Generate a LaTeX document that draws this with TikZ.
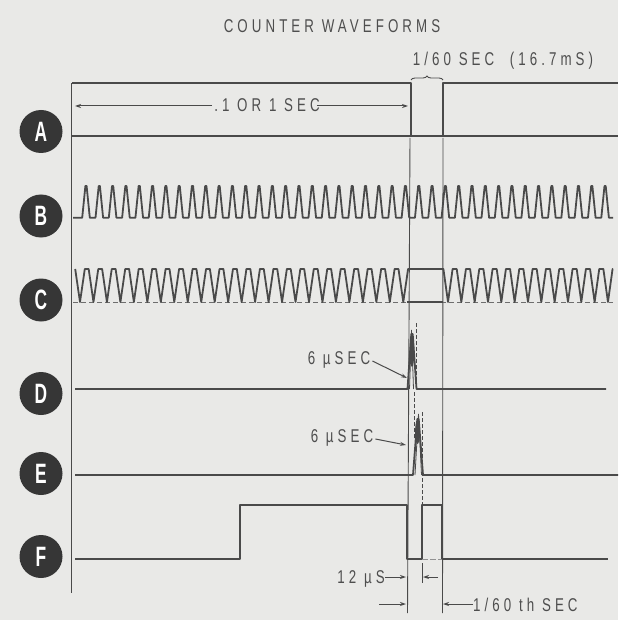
\documentclass[tikz,border=0pt]{standalone}
\usepackage{fontspec}
\setmainfont{Liberation Sans}
\newfontfamily\lblfont{Liberation Sans}[FakeStretch=0.72,LetterSpace=22]
\newfontfamily\circfont{Liberation Sans}[FakeStretch=0.62]
\usetikzlibrary{arrows.meta,decorations.pathreplacing}
\definecolor{bg}{HTML}{E9E9E7}
\definecolor{ink}{HTML}{4A4A4A}
\definecolor{txt}{HTML}{4E4E4E}
\definecolor{circfill}{HTML}{363636}
\begin{document}
\begin{tikzpicture}[x=1pt,y=-1pt,
  wave/.style={draw=ink,line width=1.8pt,line join=round},
  thinl/.style={draw=ink,line width=1.1pt},
  guide/.style={draw=ink,line width=0.9pt},
  lbl/.style={text=txt,inner sep=0pt,font=\lblfont\fontsize{18.5}{20}\selectfont},
  arr/.style={draw=ink,line width=1pt,-{Stealth[length=6pt,width=4pt]}},
  circ/.style={circle,fill=circfill,minimum size=43pt,inner sep=0pt,text=white,font=\circfont\bfseries\fontsize{28}{28}\selectfont}]
\fill[bg] (0,0) rectangle (618,620);
\useasboundingbox (0,0) rectangle (618,620);

% titles
\node[lbl,anchor=base] (title) at (332,32.5) {COUNTER WAVEFORMS};
\node[lbl,anchor=base] (per) at (503,66) {1/60 SEC\ \ (16.7mS)};

% letter circles
\node[circ] (cA) at (41,131.5) {A};
\node[circ] (cB) at (41,216) {B};
\node[circ] (cC) at (41,300) {C};
\node[circ] (cD) at (41,393.5) {D};
\node[circ] (cE) at (41,473.5) {E};
\node[circ] (cF) at (41,556.5) {F};

% axis
\draw[line width=1.2pt,ink] (71.5,83) -- (71.5,593);

% guides
\draw[guide] (410,138) -- (407.5,613);
\draw[guide] (443,138) -- (442.5,613);
\draw[guide] (422,563) -- (422,583);

% A
\draw[thinl] (72,136) -- (618,136);
\draw[wave] (72,83) -- (411,83) -- (411,136) -- (443,136) -- (443,83) -- (618,83);
\draw[draw=ink,line width=0.9pt,decorate,decoration={brace,amplitude=4pt}] (411,80) -- (443,80);
\node[lbl,anchor=base] (t1) at (267,112) {.1 OR 1 SEC};
\coordinate (aL) at (75,106);
\coordinate (aR) at (408,106);
\draw[arr] ([shift={(-2pt,6pt)}]t1.base west) -- (aL);
\draw[arr] ([shift={(-3pt,6pt)}]t1.base east) -- (aR);

% B
\draw[wave] (73,217.7) -- (82,217.7)
  \foreach \k in {0,...,39} { -- ({86+13.31*\k-3.8},217.7) -- ({86+13.31*\k-0.6},186) -- ({86+13.31*\k+0.6},186) -- ({86+13.31*\k+3.8},217.7) }
  -- (613,217.7);

% C
\draw[draw=ink!80,line width=0.8pt,dash pattern=on 5pt off 3pt] (73,302) -- (613,302);
\draw[thinl] (407,302) -- (443,302);
\draw[wave] (75.2,269)
  \foreach \k in {0,...,24} { -- ({80+13.47*\k-4.8},269) -- ({80+13.47*\k},302) -- ({80+13.47*\k+4.8},269) }
  -- (408,269) -- (443.4,269)
  \foreach \k in {0,...,12} { -- ({448+13.33*\k-4.6},269) -- ({448+13.33*\k},302) -- ({448+13.33*\k+4.6},269) }
  -- (613,269);

% D
\draw[wave] (75,389) -- (407.5,389) -- (411.3,334) -- (412.7,334) -- (416.5,389) -- (606,389);
\fill[ink] (412,352) ellipse (2.2pt and 15pt);
\draw[ink,line width=0.8pt] (409.5,389) -- (411.5,330) -- (413.5,389);
\draw[ink,line width=0.9pt,dash pattern=on 4pt off 2pt] (416,323) -- (416,386);
\draw[ink,line width=0.9pt,dash pattern=on 4pt off 2pt] (414,392) -- (414,440);
\node[lbl,anchor=base] (d6) at (339,364) {6 µSEC};
\coordinate (dtip) at (407,378);
\draw[arr] ([shift={(2pt,3pt)}]d6.base east) -- (dtip);

% E
\draw[wave] (75,475) -- (413,475) -- (417.3,419) -- (418.7,419) -- (423,475) -- (618,475);
\fill[ink] (417.5,432) ellipse (2.4pt and 12pt);
\draw[ink,line width=0.8pt] (415,475) -- (418.5,414) -- (421.5,475);
\draw[ink,line width=0.9pt,dash pattern=on 4pt off 2pt] (422.5,412) -- (422.5,505);
\node[lbl,anchor=base] (e6) at (342,442) {6 µSEC};
\coordinate (etip) at (406,445);
\draw[arr] ([shift={(2pt,3pt)}]e6.base east) -- (etip);

% F
\draw[wave] (75,559) -- (240,559) -- (240,505) -- (407,505) -- (407,559) -- (422,559) -- (422,505) -- (442,505) -- (442,559) -- (608,559);
\draw[draw=ink!60,line width=0.8pt,dash pattern=on 6pt off 2pt] (422,559) -- (442,559);

% bottom labels
\node[lbl,anchor=base] (l12) at (361,583) {12 µS};
\coordinate (t12a) at (406,577);
\coordinate (t12b) at (438,577);
\coordinate (t12c) at (423,577);
\draw[arr] ([shift={(0pt,6pt)}]l12.base east) -- (t12a);
\draw[arr] (t12b) -- (t12c);
\node[lbl,anchor=base west] (l60) at (473,611) {1/60 th SEC};
\coordinate (b1) at (379,604);
\coordinate (b2) at (406,604);
\coordinate (b3) at (443,604);
\draw[arr] (b1) -- (b2);
\draw[arr] ([shift={(0pt,7pt)}]l60.base west) -- (b3);
\end{tikzpicture}
\end{document}
